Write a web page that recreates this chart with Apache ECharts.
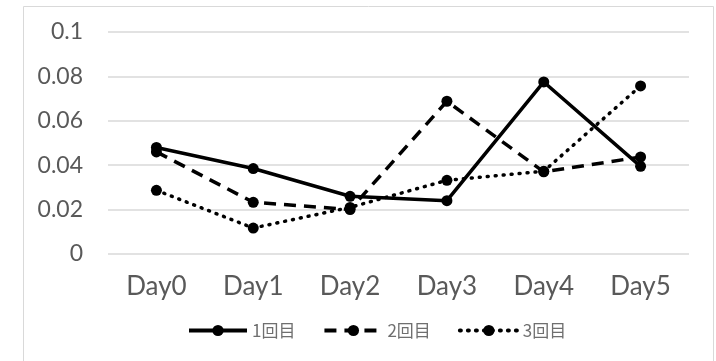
<!DOCTYPE html>
<html>
<head>
<meta charset="utf-8">
<script src="https://cdn.jsdelivr.net/npm/echarts@6/dist/echarts.min.js"></script>
<style>
    html, body { margin: 0; padding: 0; background: #fff; }
    #chart { width: 716px; height: 361px; }
</style>
</head>
<body>
<div id="chart"></div>
<script>
const days = ['Day0', 'Day1', 'Day2', 'Day3', 'Day4', 'Day5'];
const names = ['1回目', '2回目', '3回目'];
const round1 = [0.048, 0.0385, 0.026, 0.024, 0.0775, 0.0395];
const round2 = [0.046, 0.0233, 0.0200, 0.0688, 0.037, 0.0437];
const round3 = [0.0287, 0.0117, 0.021, 0.0332, 0.0373, 0.0757];

const lineTypes = ['solid', [12, 8], [1, 7]];
const lineCaps = ['butt', 'butt', 'round'];
const values = [round1, round2, round3];

const seriesData = [];
for (let i = 0; i < names.length; i++) {
    seriesData.push({
        name: names[i],
        type: 'line',
        data: values[i],
        symbol: 'circle',
        symbolSize: 11,
        itemStyle: {color: '#000'},
        lineStyle: {color: '#000', width: 3.5, type: lineTypes[i], cap: lineCaps[i]},
        z: 3 - i
    });
}

const myChart = echarts.init(document.getElementById('chart'));
const option = {
    animation: false,
    grid: {left: 108, right: 27, top: 32, bottom: 107},
    graphic: [{
        type: 'rect',
        shape: {x: 23.5, y: 6.5, width: 690, height: 400},
        style: {fill: 'none', stroke: '#d9d9d9', lineWidth: 1}
    }],
    legend: {
        data: names,
        left: 182,
        top: 317,
        itemWidth: 58,
        itemHeight: 14,
        itemGap: 27,
        lineStyle: {width: 4},
        textStyle: {color: '#6f6f6f', fontSize: 17, fontFamily: 'Noto Sans CJK JP'}
    },
    xAxis: {
        type: 'category',
        data: days,
        axisLine: {show: false},
        axisTick: {show: false},
        axisLabel: {color: '#595959', fontSize: 26, fontFamily: 'Lato', margin: 20}
    },
    yAxis: {
        type: 'value',
        min: 0,
        max: 0.1,
        interval: 0.02,
        axisLine: {show: false},
        axisTick: {show: false},
        splitLine: {lineStyle: {color: '#d9d9d9', width: 1.5}},
        axisLabel: {color: '#595959', fontSize: 23, fontFamily: 'Lato', margin: 25}
    },
    series: seriesData
};
option && myChart.setOption(option);
</script>
</body>
</html>
